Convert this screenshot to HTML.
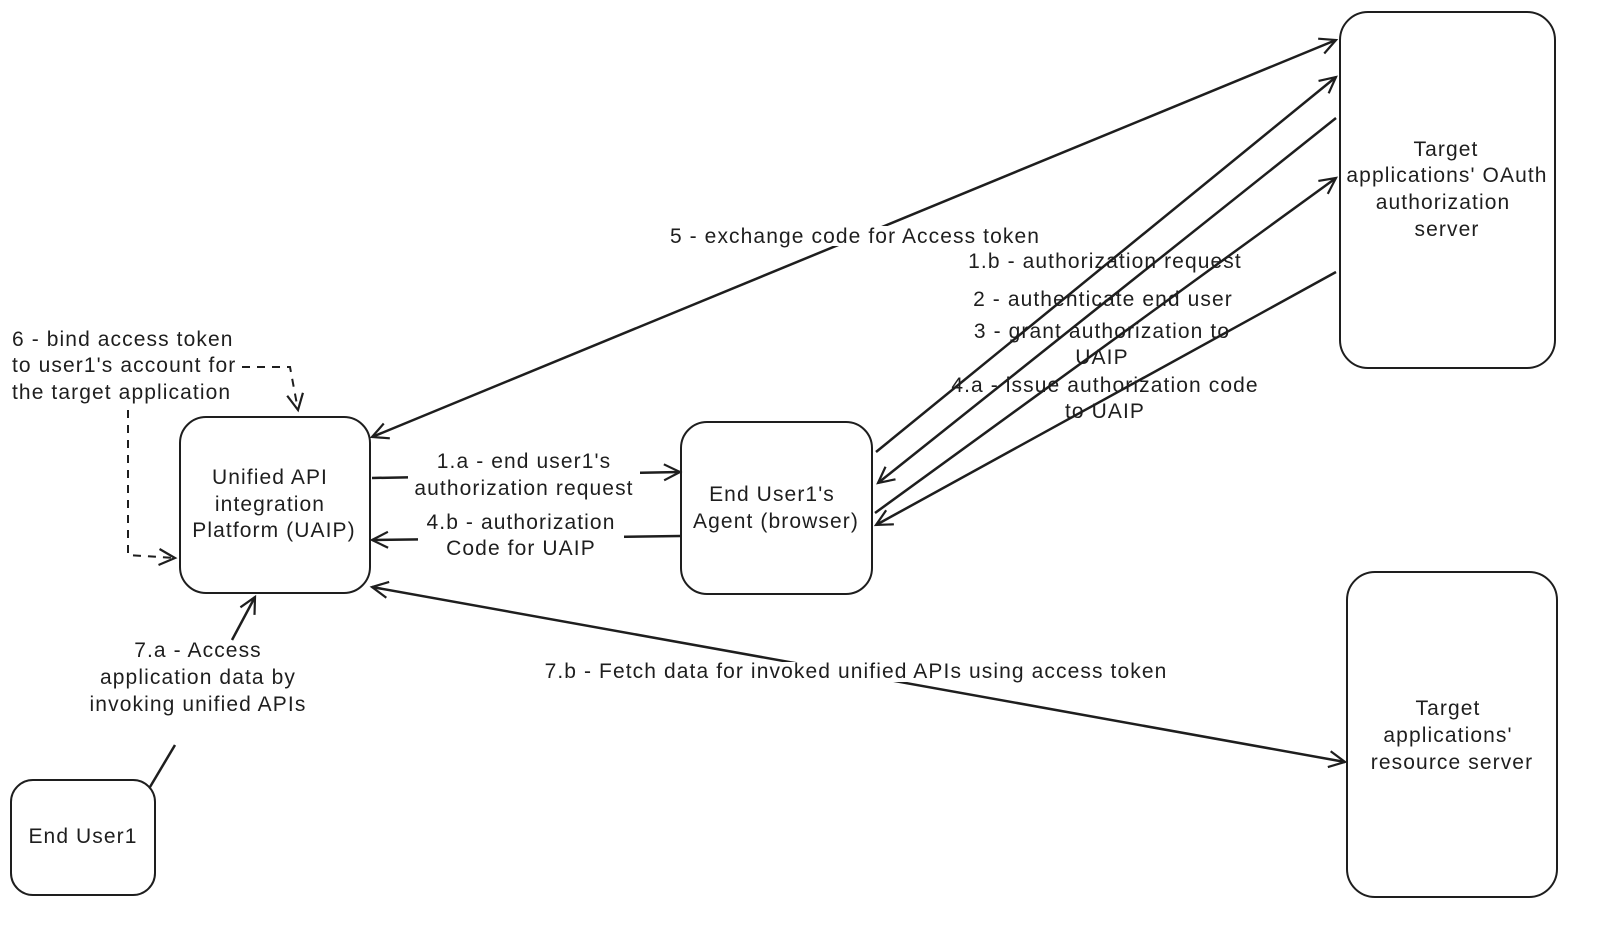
<!DOCTYPE html>
<html><head><meta charset="utf-8"><style>
html,body{margin:0;padding:0;background:#fff;overflow:hidden;width:1600px;height:930px;}
svg{display:block;}
svg text{font-family:"Liberation Sans",sans-serif;font-size:21px;letter-spacing:1.1px;fill:#1e1e1e;}
</style></head><body>
<svg width="1600" height="930" viewBox="0 0 1600 930" xmlns="http://www.w3.org/2000/svg">
<defs>
<marker id="a" markerWidth="24" markerHeight="24" refX="18" refY="12" orient="auto" markerUnits="userSpaceOnUse">
<path d="M2,4 L18,12 L2,20" fill="none" stroke="#1e1e1e" stroke-width="2.2"/></marker>
<marker id="s" markerWidth="24" markerHeight="24" refX="6" refY="12" orient="auto" markerUnits="userSpaceOnUse">
<path d="M22,4 L6,12 L22,20" fill="none" stroke="#1e1e1e" stroke-width="2.2"/></marker>
</defs>
<g fill="none" stroke="#1e1e1e" stroke-width="2">
<rect x="180" y="417" width="190" height="176" rx="26"/>
<rect x="681" y="422" width="191" height="172" rx="26"/>
<rect x="1340" y="12" width="215" height="356" rx="28"/>
<rect x="1347" y="572" width="210" height="325" rx="28"/>
<rect x="11" y="780" width="144" height="115" rx="22"/>
</g>
<g fill="none" stroke="#1e1e1e" stroke-width="2.5">
<line x1="372" y1="437" x2="1336" y2="40" marker-start="url(#s)" marker-end="url(#a)"/>
<line x1="372" y1="587" x2="1345" y2="762" marker-start="url(#s)" marker-end="url(#a)"/>
<line x1="876" y1="452" x2="1336" y2="77" marker-end="url(#a)"/>
<line x1="1336" y1="118" x2="878" y2="483" marker-end="url(#a)"/>
<line x1="875" y1="513" x2="1336" y2="178" marker-end="url(#a)"/>
<line x1="1336" y1="272" x2="876" y2="525" marker-end="url(#a)"/>
<line x1="372" y1="478" x2="680" y2="472" marker-end="url(#a)"/>
<line x1="680" y1="536" x2="372" y2="540" marker-end="url(#a)"/>
<line x1="232" y1="640" x2="255" y2="597" marker-end="url(#a)"/>
<line x1="175" y1="745" x2="150" y2="787"/>
<path d="M242,367 L290,367 L298,410" marker-end="url(#a)" stroke-dasharray="8,7" stroke-width="2"/>
<path d="M128,410 L128,555 L175,558" marker-end="url(#a)" stroke-dasharray="8,7" stroke-width="2"/>
</g>
<g fill="#fff" stroke="none">
<rect x="662" y="226" width="385" height="20"/>
<rect x="1100" y="404" width="60" height="22"/>
<rect x="408" y="452" width="232" height="46"/>
<rect x="418" y="513" width="206" height="46"/>
<rect x="532" y="662" width="652" height="20"/>
</g>
<g text-anchor="middle">
<text x="855" y="243">5 - exchange code for Access token</text>
<text x="1105" y="268">1.b - authorization request</text>
<text x="1103" y="306">2 - authenticate end user</text>
<text x="1102" y="338">3 - grant authorization to</text>
<text x="1102" y="364">UAIP</text>
<text x="1105" y="392">4.a - issue authorization code</text>
<text x="1105" y="418">to UAIP</text>
<text x="524" y="468">1.a - end user1's</text>
<text x="524" y="495">authorization request</text>
<text x="521" y="529">4.b - authorization</text>
<text x="521" y="555">Code for UAIP</text>
<text x="856" y="678">7.b - Fetch data for invoked unified APIs using access token</text>
<text x="270" y="484">Unified API</text>
<text x="270" y="511">integration</text>
<text x="274" y="537">Platform (UAIP)</text>
<text x="772" y="501">End User1's</text>
<text x="776" y="528">Agent (browser)</text>
<text x="1446" y="156">Target</text>
<text x="1447" y="182">applications' OAuth</text>
<text x="1443" y="209">authorization</text>
<text x="1447" y="236">server</text>
<text x="1448" y="715">Target</text>
<text x="1448" y="742">applications'</text>
<text x="1452" y="769">resource server</text>
<text x="83" y="843">End User1</text>
<text x="198" y="657">7.a - Access</text>
<text x="198" y="684">application data by</text>
<text x="198" y="711">invoking unified APIs</text>
</g>
<text x="12" y="346">6 - bind access token</text>
<text x="12" y="372">to user1's account for</text>
<text x="12" y="399">the target application</text>
</svg>
</body></html>
